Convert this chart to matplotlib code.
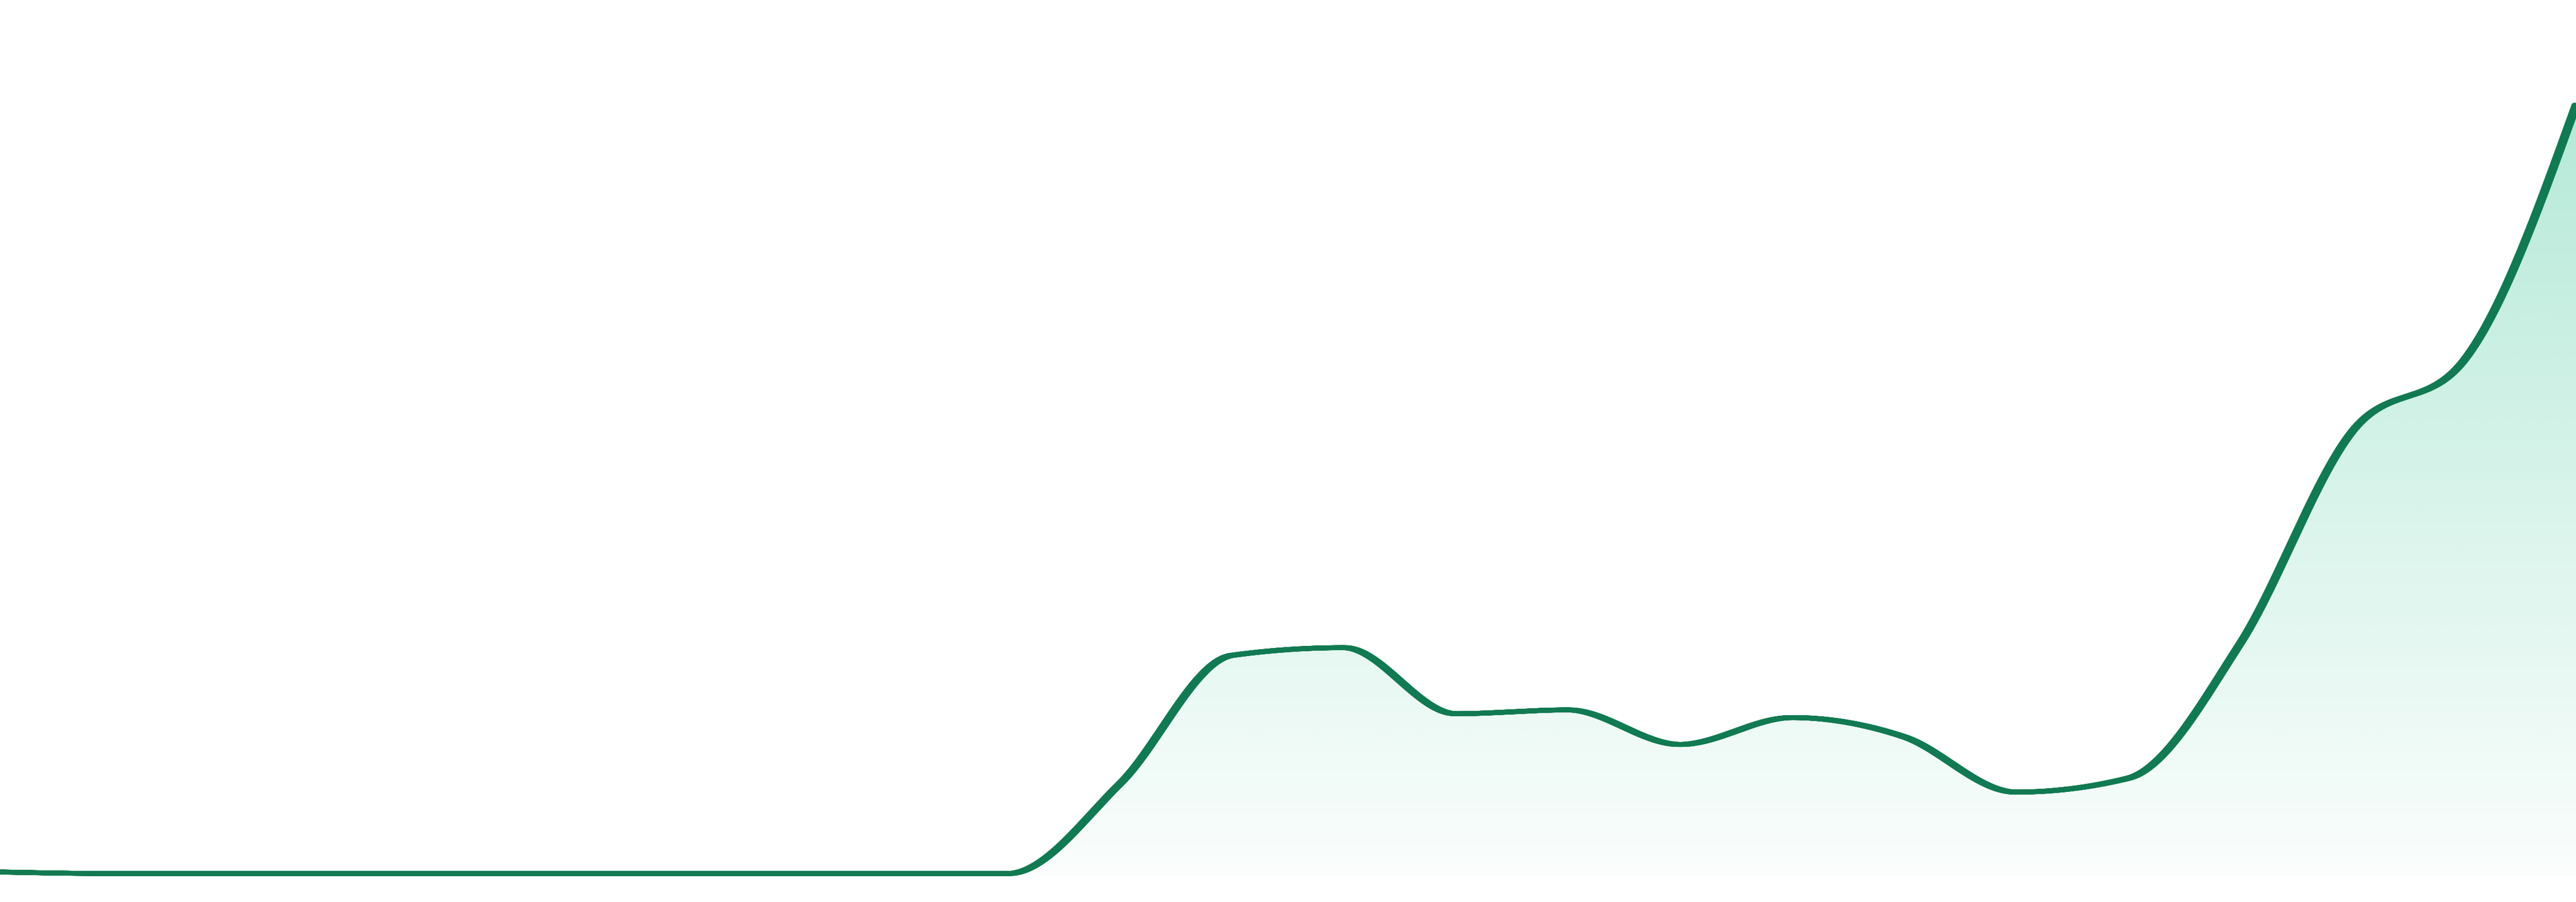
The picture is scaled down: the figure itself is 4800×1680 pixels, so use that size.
import numpy as np
import matplotlib
matplotlib.use("Agg")
import matplotlib.pyplot as plt
from matplotlib import transforms
from matplotlib.patches import Polygon

# ---- data (arbitrary units, peak = 100) ----
periods = list(range(24))
values = [0.2, 0, 0, 0, 0, 0, 0, 0, 0, 0,
          11.7, 28.4, 29.4, 20.8, 21.3, 16.8, 20.3, 17.8,
          10.6, 12.4, 29.9, 57.5, 66.8, 100.0]

LINE_COLOR = "#117a52"
FILL_RGB = (16 / 255, 185 / 255, 129 / 255)


def monotone_x(x, y, n_per=60):
    """d3.curveMonotoneX style interpolation -> dense polyline."""
    x = np.asarray(x, float)
    y = np.asarray(y, float)
    n = len(x)
    h = np.diff(x)
    s = np.diff(y) / h
    t = np.zeros(n)
    for i in range(1, n - 1):
        p = (s[i - 1] * h[i] + s[i] * h[i - 1]) / (h[i - 1] + h[i])
        t[i] = (np.sign(s[i - 1]) + np.sign(s[i])) * min(abs(s[i - 1]), abs(s[i]), 0.5 * abs(p))
    t[0] = (3 * s[0] - t[1]) / 2
    t[-1] = (3 * s[-1] - t[-2]) / 2
    xs, ys = [], []
    u = np.linspace(0, 1, n_per, endpoint=False)
    for i in range(n - 1):
        dx = (x[i + 1] - x[i]) / 3
        P0 = np.array([x[i], y[i]])
        P1 = np.array([x[i] + dx, y[i] + dx * t[i]])
        P2 = np.array([x[i + 1] - dx, y[i + 1] - dx * t[i + 1]])
        P3 = np.array([x[i + 1], y[i + 1]])
        uu = u[:, None]
        B = ((1 - uu) ** 3) * P0 + 3 * ((1 - uu) ** 2) * uu * P1 + 3 * (1 - uu) * uu ** 2 * P2 + uu ** 3 * P3
        xs.append(B[:, 0])
        ys.append(B[:, 1])
    xs.append([x[-1]])
    ys.append([y[-1]])
    return np.concatenate(xs), np.concatenate(ys)


W, H, DPI = 4800, 1680, 300
fig = plt.figure(figsize=(W / DPI, H / DPI), dpi=DPI)
fig.patch.set_facecolor("white")

bottom_px = 1632          # bottom of the plotting area (pixels from top)
zero_px = 1627            # pixel row of value 0
peak_px = 196             # pixel row of value 100
ppu = (zero_px - peak_px) / 100.0
ax = fig.add_axes([0, (H - bottom_px) / H, 1, bottom_px / H])
ax.set_xlim(periods[0], periods[-1])
ymin = -(bottom_px - zero_px) / ppu
ymax = zero_px / ppu
ax.set_ylim(ymin, ymax)
ax.axis("off")

xs, ys = monotone_x(periods, values)

# gradient fill under the curve
top_v = max(values)
ngrad = 256
alpha = np.linspace(0.02, 0.31, ngrad)
grad = np.zeros((ngrad, 2, 4))
grad[..., 0] = FILL_RGB[0]
grad[..., 1] = FILL_RGB[1]
grad[..., 2] = FILL_RGB[2]
grad[..., 3] = alpha[:, None]
im = ax.imshow(grad, extent=[periods[0], periods[-1], ymin, top_v], origin="lower",
               aspect="auto", interpolation="bilinear", zorder=1)
verts = np.column_stack([np.r_[xs, xs[-1], xs[0]], np.r_[ys, ymin, ymin]])
poly = Polygon(verts, closed=True, facecolor="none", edgecolor="none")
ax.add_patch(poly)
im.set_clip_path(poly)
ax.set_xlim(periods[0], periods[-1])
ax.set_ylim(ymin, ymax)

# line: stroke is wider horizontally than vertically (stretched original)
lw_pts = 9 * 72 / DPI
for off in np.linspace(-4, 4, 9):
    tr = transforms.offset_copy(ax.transData, fig=fig, x=off, y=0, units="dots")
    ax.plot(xs, ys, color=LINE_COLOR, lw=lw_pts, transform=tr,
            solid_capstyle="round", solid_joinstyle="round", zorder=3)

fig.savefig("out.png", dpi=DPI, facecolor="white")
